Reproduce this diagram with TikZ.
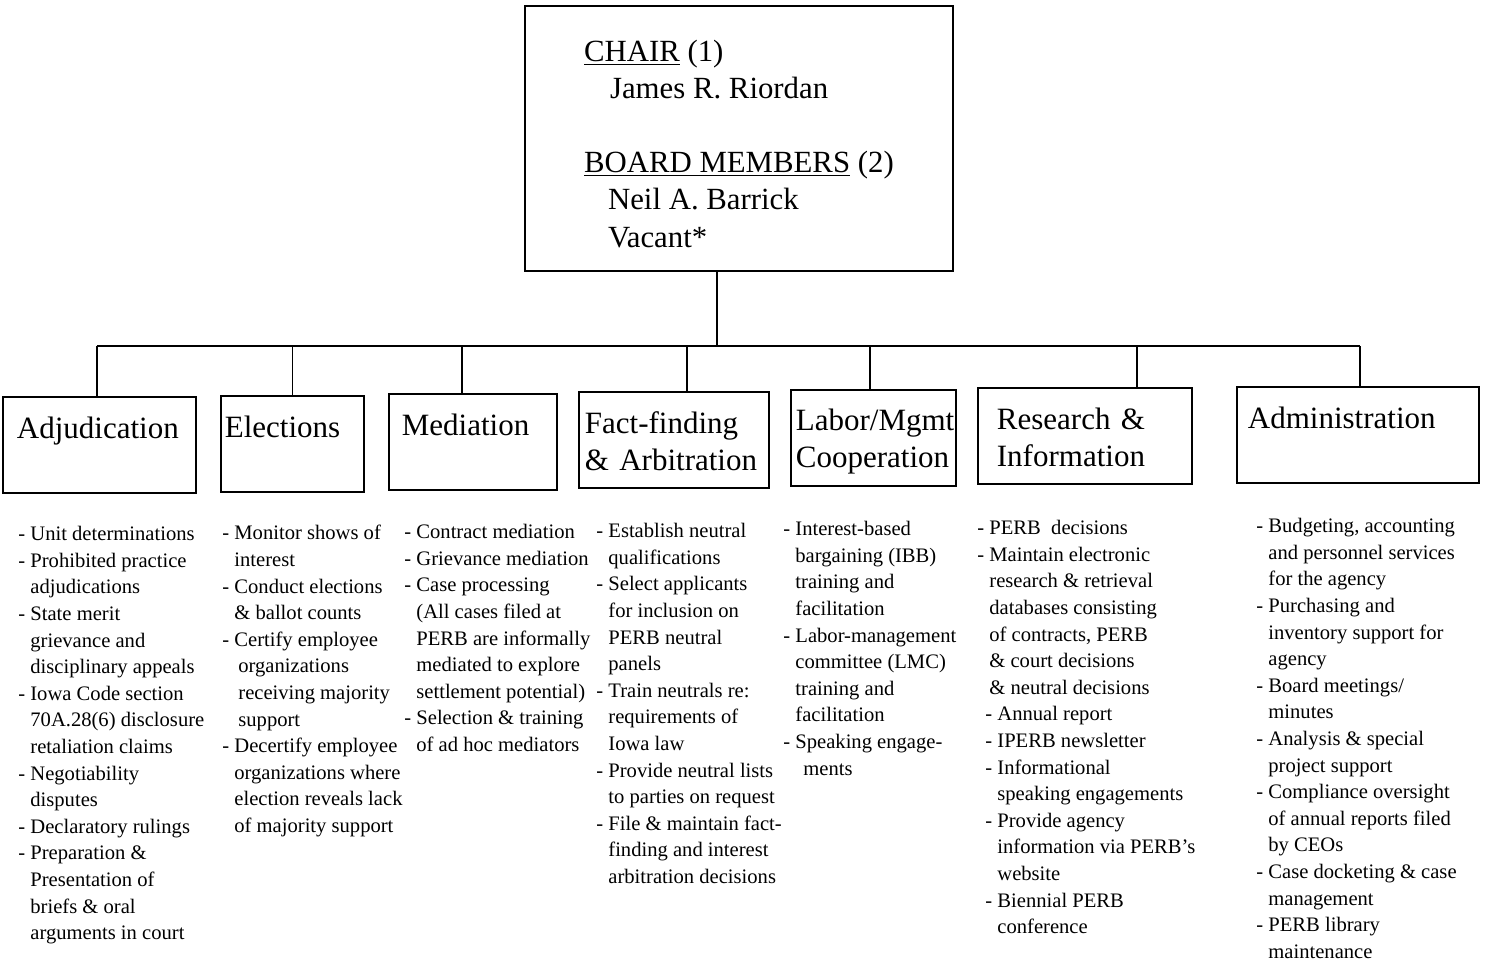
\documentclass[tikz,border=0pt]{standalone}
\usepackage{fontspec}
\setmainfont{Liberation Serif}

\newcommand{\ind}{\hspace*{6pt}}

\begin{document}
\begin{tikzpicture}[x=0.5pt,y=-0.5pt,
    % styles
    link/.style={line width=0.9pt},
    board/.style={draw,line width=0.9pt,anchor=north west,align=left,
      minimum width=214pt,minimum height=132.5pt,inner sep=0pt,
      font=\fontsize{15.4}{18.6}\selectfont},
    unit/.style={draw,line width=0.9pt,anchor=north west,align=left,
      minimum height=48pt,inner ysep=2pt,
      font=\fontsize{15.5}{18.5}\selectfont,
      execute at begin node={\rule{0pt}{14pt}},
      execute at end node={\rule[-1.5pt]{0pt}{1.5pt}}},
    duties/.style={anchor=north west,align=left,inner sep=0pt,
      font=\fontsize{10.3}{13.3}\selectfont,
      execute at begin node=\strut}]

  \useasboundingbox (0,0) rectangle (1487,961);

  % board
  \node (chair) [board] at (524,5) {\rule{0pt}{16pt}\underline{CHAIR} (1)\\
    \hspace*{13pt}James R. Riordan\\[18.6pt]
    \underline{BOARD MEMBERS} (2)\\
    \hspace*{12pt}Neil A. Barrick\\
    \hspace*{12pt}Vacant*};

  % units
  \node (adj) [unit,text width=82.5pt,inner xsep=7pt] at (2,396) {Adjudication\\};
  \node (elec) [unit,text width=67.5pt,inner xsep=2pt] at (220,395) {Elections\\};
  \node (med) [unit,text width=71pt,inner xsep=6.5pt] at (388,393) {Mediation\\};
  \node (fact) [unit,text width=89pt,inner xsep=3pt] at (578,391) {Fact-finding\\ \mbox{\& Arbitration}};
  \node (lab) [unit,text width=77.5pt,inner xsep=2.5pt] at (790,389) {Labor/Mgmt\\ Cooperation};
  \node (res) [unit,text width=88pt,inner xsep=9.5pt] at (977,387) {Research \&\\ Information};
  \node (admin) [unit,text width=110pt,inner xsep=5.5pt] at (1236,386) {Administration\\};

  % connectors
  \coordinate (bus) at (717,346);
  \draw [link] (chair.south -| bus) -- (bus);
  \draw [link] ([xshift=-1.25pt]adj.north |- bus) -- ([xshift=1pt]admin.north |- bus);
  \foreach \n/\dx in {adj/-1.25,elec/0,med/-5.5,fact/6.5,lab/-1.75,res/26,admin/1}
    \draw [link] ([xshift=\dx pt]\n.north) -- ([xshift=\dx pt]\n.north |- bus);

  % duties
  \node (adj-list) [duties] at (18,526) {- Unit determinations\\
    - Prohibited practice\\
    \ind adjudications\\
    - State merit\\
    \ind grievance and\\
    \ind disciplinary appeals\\
    - Iowa Code section\\
    \ind 70A.28(6) disclosure\\
    \ind retaliation claims\\
    - Negotiability\\
    \ind disputes\\
    - Declaratory rulings\\
    - Preparation \&\\
    \ind Presentation of\\
    \ind briefs \& oral\\
    \ind arguments in court};

  \node (elec-list) [duties] at (222,525) {- Monitor shows of\\
    \ind interest\\
    - Conduct elections\\
    \ind \& ballot counts\\
    - Certify employee\\
    \hspace*{8pt}organizations\\
    \hspace*{8pt}receiving majority\\
    \hspace*{8pt}support\\
    - Decertify employee\\
    \ind organizations where\\
    \ind election reveals lack\\
    \ind of majority support};

  \node (med-list) [duties] at (404,524) {- Contract mediation\\
    - Grievance mediation\\
    - Case processing\\
    \ind (All cases filed at\\
    \ind PERB are informally\\
    \ind mediated to explore\\
    \ind settlement potential)\\
    - Selection \& training\\
    \ind of ad hoc mediators};

  \node (fact-list) [duties] at (596,523) {- Establish neutral\\
    \ind qualifications\\
    - Select applicants\\
    \ind for inclusion on\\
    \ind PERB neutral\\
    \ind panels\\
    - Train neutrals re:\\
    \ind requirements of\\
    \ind Iowa law\\
    - Provide neutral lists\\
    \ind to parties on request\\
    - File \& maintain fact-\\
    \ind finding and interest\\
    \ind arbitration decisions};

  \node (lab-list) [duties] at (783,521) {- Interest-based\\
    \ind bargaining (IBB)\\
    \ind training and\\
    \ind facilitation\\
    - Labor-management\\
    \ind committee (LMC)\\
    \ind training and\\
    \ind facilitation\\
    - Speaking engage-\\
    \hspace*{10pt}ments};

  \node (res-list) [duties] at (977,520) {- PERB~~decisions\\
    - Maintain electronic\\
    \ind research \& retrieval\\
    \ind databases consisting\\
    \ind of contracts, PERB\\
    \ind \& court decisions\\
    \ind \& neutral decisions\\
    \hspace*{4pt}- Annual report\\
    \hspace*{4pt}- IPERB newsletter\\
    \hspace*{4pt}- Informational\\
    \hspace*{10pt}speaking engagements\\
    \hspace*{4pt}- Provide agency\\
    \hspace*{10pt}information via PERB's\\
    \hspace*{10pt}website\\
    \hspace*{4pt}- Biennial PERB\\
    \hspace*{10pt}conference};

  \node (admin-list) [duties] at (1256,518) {- Budgeting, accounting\\
    \ind and personnel services\\
    \ind for the agency\\
    - Purchasing and\\
    \ind inventory support for\\
    \ind agency\\
    - Board meetings/\\
    \ind minutes\\
    - Analysis \& special\\
    \ind project support\\
    - Compliance oversight\\
    \ind of annual reports filed\\
    \ind by CEOs\\
    - Case docketing \& case\\
    \ind management\\
    - PERB library\\
    \ind maintenance};
\end{tikzpicture}
\end{document}
